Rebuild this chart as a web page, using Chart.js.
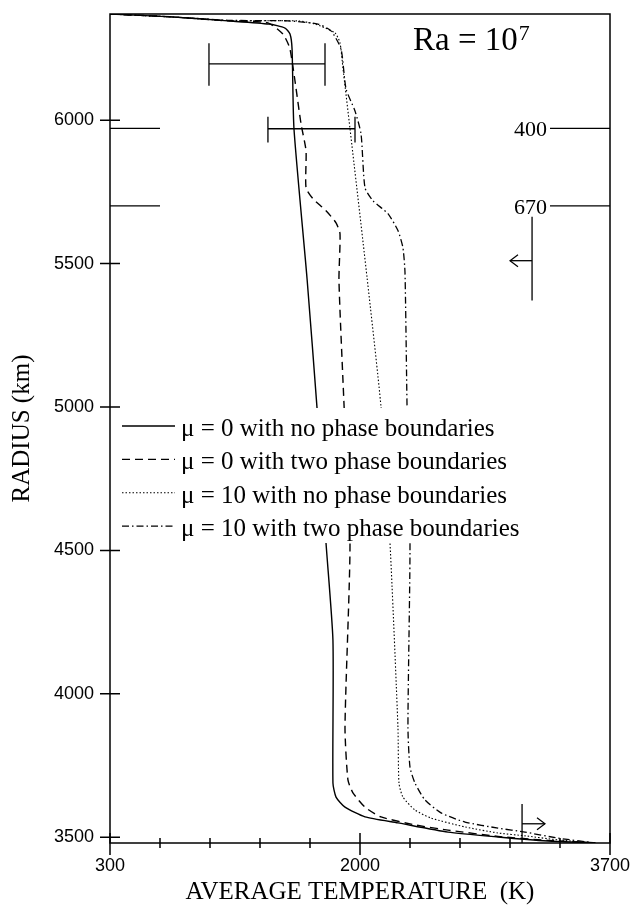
<!DOCTYPE html>
<html>
<head>
<meta charset="utf-8">
<script src="https://cdn.jsdelivr.net/npm/chart.js@4/dist/chart.umd.min.js"></script>
<style>
  html, body { margin: 0; padding: 0; background: #fff; }
  #wrap { width: 634px; height: 905px; }
</style>
</head>
<body>
<div id="wrap"><canvas id="c" width="634" height="905"></canvas></div>
<script>
// axes
const tempTicks = [300, 640, 980, 1320, 1660, 2000, 2340, 2680, 3020, 3360, 3700];
const tempLabeled = [300, 2000, 3700];
const radiusTicks = [3500, 4000, 4500, 5000, 5500, 6000];

// curves: average temperature (K) against radius (km)
const seriesLabels = [
  'μ = 0 with no phase boundaries',
  'μ = 0 with two phase boundaries',
  'μ = 10 with no phase boundaries',
  'μ = 10 with two phase boundaries'
];
const mu0NoT = [300, 715, 1102, 1380, 1490, 1524, 1538, 1551, 1640, 1708, 1769, 1816, 1816, 1837, 1898, 2034, 2258, 2598, 2938, 3278, 3600];
const mu0NoR = [6370, 6360, 6346, 6335, 6321, 6300, 6248, 5970, 5447, 4995, 4525, 4187, 3689, 3640, 3605, 3571, 3550, 3518, 3501, 3487, 3480];
const mu0TwoT = [300, 715, 1102, 1374, 1476, 1524, 1599, 1633, 1633, 1680, 1769, 1837, 1864, 1857, 1891, 1932, 1898, 1918, 1952, 2034, 2143, 2374, 2598, 2938, 3278, 3600];
const mu0TwoR = [6370, 6360, 6346, 6339, 6300, 6248, 5987, 5893, 5764, 5726, 5684, 5642, 5604, 5440, 5012, 4525, 3884, 3700, 3655, 3605, 3571, 3543, 3525, 3503, 3489, 3481];
const mu10NoT = [300, 715, 1102, 1578, 1694, 1830, 1864, 1884, 1932, 2048, 2143, 2204, 2258, 2265, 2292, 2374, 2483, 2714, 2938, 3122, 3346, 3600];
const mu10NoR = [6370, 6360, 6347, 6346, 6335, 6304, 6269, 6182, 5970, 5451, 4999, 4525, 3884, 3689, 3640, 3595, 3567, 3536, 3515, 3505, 3491, 3480];
const mu10TwoT = [300, 715, 1102, 1510, 1714, 1803, 1871, 1905, 1966, 2007, 2034, 2088, 2190, 2258, 2292, 2306, 2320, 2340, 2326, 2340, 2374, 2442, 2551, 2714, 2938, 3122, 3346, 3600];
const mu10TwoR = [6370, 6360, 6348, 6346, 6335, 6311, 6248, 6109, 6032, 5952, 5764, 5719, 5674, 5615, 5555, 5468, 4999, 4525, 3884, 3744, 3689, 3630, 3585, 3553, 3532, 3518, 3497, 3480];

// error bars (temperature ranges)
const errBarR = [6196, 5970];
const errBarLoT = [973, 1374];
const errBarHiT = [1762, 1966];
const errCapTopR = [6268, 6012];
const errCapBotR = [6120, 5922];

// phase boundary depth marks
const depthR = [5971, 5701];
const depthLabels = ['400', '670'];
const leftMarkT = [300, 640];
const rightMarkT = [3292, 3700];

// arrows
const arrowT = [3170, 3102];
const arrowTopR = [5663, 3616];
const arrowBotR = [5371, 3480];
const arrowR = [5510, 3547];
const arrowTipT = [3020, 3258];

const raText = 'Ra = 10';
const raExp = '7';

function pts(T, R) {
  return T.map((t, i) => ({ x: t, y: R[i] }));
}

function seg(x0, y0, x1, y1) {
  return {
    data: [{ x: x0, y: y0 }, { x: x1, y: y1 }],
    borderColor: '#000', borderWidth: 1.3, showLine: true,
    pointRadius: 0, tension: 0
  };
}

const curveStyle = [
  { borderDash: [], borderWidth: 1.4 },
  { borderDash: [8, 5], borderWidth: 1.4 },
  { borderDash: [1.5, 2], borderWidth: 1.1 },
  { borderDash: [7, 3, 1.5, 3], borderWidth: 1.3 }
];
const curveData = [
  pts(mu0NoT, mu0NoR), pts(mu0TwoT, mu0TwoR),
  pts(mu10NoT, mu10NoR), pts(mu10TwoT, mu10TwoR)
];

const datasets = curveData.map((d, i) => ({
  label: seriesLabels[i],
  data: d,
  borderColor: '#000',
  borderWidth: curveStyle[i].borderWidth,
  borderDash: curveStyle[i].borderDash,
  showLine: true,
  pointRadius: 0,
  tension: 0.2
}));

errBarR.forEach((r, i) => {
  datasets.push(seg(errBarLoT[i], r, errBarHiT[i], r));
  datasets.push(seg(errBarLoT[i], errCapTopR[i], errBarLoT[i], errCapBotR[i]));
  datasets.push(seg(errBarHiT[i], errCapTopR[i], errBarHiT[i], errCapBotR[i]));
});
depthR.forEach(r => {
  datasets.push(seg(leftMarkT[0], r, leftMarkT[1], r));
  datasets.push(seg(rightMarkT[0], r, rightMarkT[1], r));
});
arrowT.forEach((t, i) => {
  datasets.push(seg(t, arrowTopR[i], t, arrowBotR[i]));
  datasets.push(seg(t, arrowR[i], arrowTipT[i], arrowR[i]));
});

const decor = {
  id: 'decor',
  afterDatasetsDraw(chart) {
    const { ctx, chartArea: a, scales: { x, y } } = chart;
    ctx.save();
    ctx.strokeStyle = '#000';
    ctx.fillStyle = '#000';

    // arrow heads
    ctx.lineWidth = 1.2;
    arrowT.forEach((t, i) => {
      const tx = x.getPixelForValue(arrowTipT[i]);
      const ty = y.getPixelForValue(arrowR[i]);
      const dir = arrowTipT[i] < t ? 1 : -1;
      ctx.beginPath();
      ctx.moveTo(tx + dir * 8, ty - 6);
      ctx.lineTo(tx, ty);
      ctx.lineTo(tx + dir * 8, ty + 6);
      ctx.stroke();
    });

    // depth labels
    ctx.font = '22px "Liberation Serif"';
    ctx.textAlign = 'right';
    ctx.textBaseline = 'alphabetic';
    depthR.forEach((r, i) => {
      ctx.fillText(depthLabels[i], x.getPixelForValue(rightMarkT[0]) - 3, y.getPixelForValue(r) + 8);
    });

    // Ra label
    ctx.textAlign = 'left';
    ctx.font = '33px "Liberation Serif"';
    const rx = a.right - 197;
    ctx.fillText(raText, rx, a.top + 36);
    const w = ctx.measureText(raText).width;
    ctx.font = '22px "Liberation Serif"';
    ctx.fillText(raExp, rx + w + 1, a.top + 26);

    // legend
    const bx = a.left + 4, by = a.top + 394;
    ctx.fillStyle = '#fff';
    ctx.fillRect(bx, by, 410, 135);
    ctx.fillStyle = '#000';
    ctx.font = '25px "Liberation Serif"';
    chart.data.datasets.filter(d => d.label).forEach((d, i) => {
      const ly = a.top + 412 + i * 33.4;
      ctx.setLineDash(d.borderDash);
      ctx.lineWidth = d.borderWidth;
      ctx.beginPath();
      ctx.moveTo(a.left + 12, ly);
      ctx.lineTo(a.left + 65, ly);
      ctx.stroke();
      ctx.setLineDash([]);
      ctx.fillText(d.label, a.left + 71, ly + 10);
    });
    ctx.restore();
  },
  afterDraw(chart) {
    const { ctx, chartArea: a, scales: { x, y } } = chart;
    ctx.save();
    ctx.strokeStyle = '#000';
    ctx.lineWidth = 1.5;
    ctx.strokeRect(a.left, a.top, a.right - a.left, a.bottom - a.top);
    ctx.beginPath();
    radiusTicks.forEach(v => {
      const py = y.getPixelForValue(v);
      ctx.moveTo(a.left - 10, py);
      ctx.lineTo(a.left + 10, py);
    });
    tempTicks.forEach(v => {
      const px = x.getPixelForValue(v);
      const big = tempLabeled.includes(v);
      ctx.moveTo(px, a.bottom - (big ? 10 : 5));
      ctx.lineTo(px, a.bottom + (big ? 12 : 5));
    });
    ctx.stroke();
    ctx.restore();
  }
};

function noPad(s) {
  s.paddingLeft = 0;
  s.paddingRight = 0;
  s.paddingTop = 0;
  s.paddingBottom = 0;
}

new Chart(document.getElementById('c'), {
  type: 'scatter',
  data: { datasets },
  options: {
    responsive: false,
    animation: false,
    layout: { padding: { top: 14, right: 24, left: 0, bottom: 0 } },
    plugins: { legend: { display: false }, tooltip: { enabled: false } },
    scales: {
      x: {
        type: 'linear',
        min: 300,
        max: 3700,
        afterBuildTicks: s => { s.ticks = tempTicks.map(v => ({ value: v })); },
        afterFit: s => { s.height = 62; noPad(s); },
        grid: { display: false, drawTicks: false },
        border: { display: false },
        ticks: {
          autoSkip: false,
          maxRotation: 0,
          padding: 12,
          color: '#000',
          font: { family: 'Liberation Sans', size: 18 },
          callback: v => tempLabeled.includes(v) ? String(v) : ''
        },
        title: {
          display: true,
          text: 'AVERAGE TEMPERATURE  (K)',
          color: '#000',
          font: { family: 'Liberation Serif', size: 25, lineHeight: 1 },
          padding: { top: 0, bottom: 0 }
        }
      },
      y: {
        type: 'linear',
        min: 3480,
        max: 6370,
        afterBuildTicks: s => { s.ticks = radiusTicks.map(v => ({ value: v })); },
        afterFit: s => { s.width = 110; noPad(s); },
        grid: { display: false, drawTicks: false },
        border: { display: false },
        ticks: {
          autoSkip: false,
          padding: 16,
          color: '#000',
          font: { family: 'Liberation Sans', size: 18 },
          callback: v => String(v)
        },
        title: {
          display: true,
          text: 'RADIUS (km)',
          color: '#000',
          font: { family: 'Liberation Serif', size: 25, lineHeight: 1 },
          padding: { top: 10, bottom: 0 }
        }
      }
    }
  },
  plugins: [decor]
});
</script>
</body>
</html>
